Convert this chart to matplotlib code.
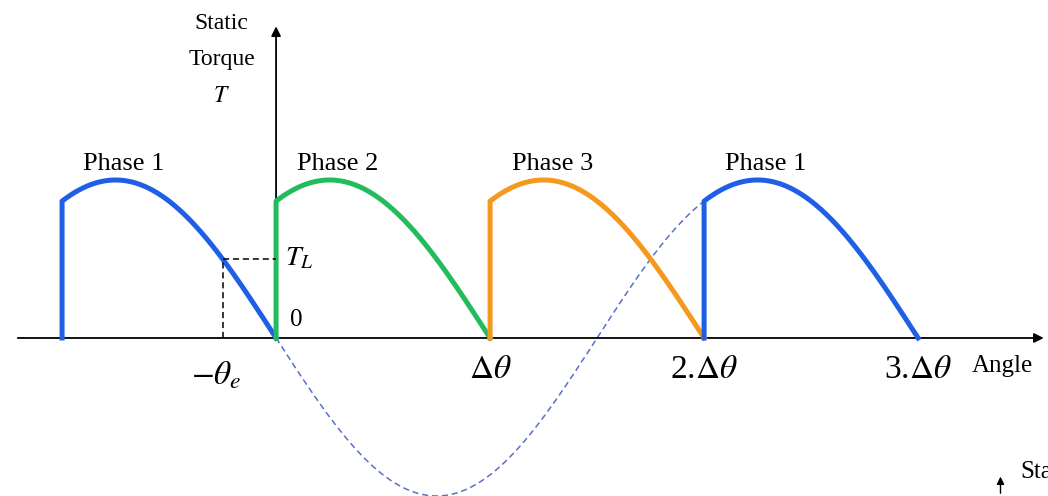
import numpy as np
import matplotlib.pyplot as plt

plt.rcParams['font.family'] = ['Liberation Serif', 'DejaVu Serif']
plt.rcParams['mathtext.fontset'] = 'stix'

# one curve per energised phase, each one step wide (angles in steps of delta-theta)
phase_names = ['Phase 1', 'Phase 2', 'Phase 3', 'Phase 1']
phase_starts = [-1.0, 0.0, 1.0, 2.0]
phase_colors = ['#1f5fe6', '#22bb5e', '#f5981e', '#1f5fe6']
half_period = 1.5      # steps per half cycle of the static torque curve
t_load = 0.5           # load torque relative to peak torque
tick_pos = [1, 2, 3]
tick_labels = [r'$\Delta\theta$', r'2.$\Delta\theta$', r'3.$\Delta\theta$']


def torque(x, zero):
    return np.sin(np.pi * (zero - x) / half_period)


theta_e = -half_period / np.pi * np.arcsin(t_load)

fig = plt.figure(figsize=(10.48, 4.96), dpi=100)
ax = fig.add_axes([0, 0, 1, 1])
ax.set_xlim(-1.29, 3.607)
ax.set_ylim(-1.0, 2.139)
ax.axis('off')

# axes with arrow heads
ax.annotate('', xy=(3.6, 0), xytext=(-1.22, 0),
            arrowprops=dict(arrowstyle='-|>', color='black', lw=1.3,
                            mutation_scale=14))
ax.annotate('', xy=(0, 1.99), xytext=(0, 0),
            arrowprops=dict(arrowstyle='-|>', color='black', lw=1.3,
                            mutation_scale=14))

# phase 1 curve continued through the negative lobe
xd = np.linspace(0, phase_starts[3], 200)
ax.plot(xd, torque(xd, phase_starts[3] + 1), color='#5870c8', lw=1.1,
        ls=(0, (4, 2.5)), zorder=2)

for name, start, col in zip(phase_names, phase_starts, phase_colors):
    x = np.linspace(start, start + 1, 200)
    y = torque(x, start + 1)
    ax.plot(np.r_[start, x], np.r_[0, y], color=col, lw=3.6,
            solid_joinstyle='round', zorder=3)
    ax.text(start + 0.29, 1.10, name, ha='center', va='center', fontsize=19)

# load torque and equilibrium angle
ax.plot([theta_e, 0], [t_load, t_load], color='black', lw=1.1, ls=(0, (4, 2.5)), zorder=4)
ax.plot([theta_e, theta_e], [0, t_load], color='black', lw=1.1, ls=(0, (4, 2.5)), zorder=4)
ax.text(0.042, t_load, r'$T_L$', ha='left', va='center', fontsize=20)
ax.text(0.065, 0.115, '0', ha='left', va='center', fontsize=18)
ax.text(theta_e - 0.03, -0.24, r'$-\theta_e$', ha='center', va='center', fontsize=24)

for p, lab in zip(tick_pos, tick_labels):
    ax.text(p, -0.2, lab, ha='center', va='center', fontsize=24)
ax.text(3.25, -0.18, 'Angle', ha='left', va='center', fontsize=18)

ax.text(-0.255, 1.76, 'Static\nTorque\n$T$', ha='center', va='center',
        fontsize=17, linespacing=1.95)

# start of the next panel peeking in at the corner
ax.annotate('', xy=(3.385, -0.86), xytext=(3.385, -1.0),
            arrowprops=dict(arrowstyle='-|>', color='black', lw=1.0,
                            mutation_scale=11))
ax.text(3.48, -0.85, 'Static', ha='left', va='center', fontsize=18)

fig.savefig('out.png', dpi=100)
